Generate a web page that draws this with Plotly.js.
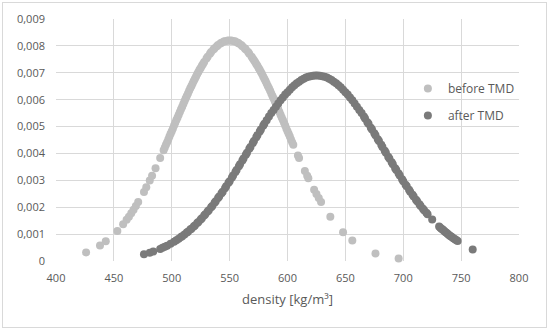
<!DOCTYPE html>
<html>
<head>
<meta charset="utf-8">
<script src="https://cdn.plot.ly/plotly-3.0.1.min.js"></script>
<style>
  html, body { margin: 0; padding: 0; background: #ffffff; }
  #wrap { position: absolute; left: 2px; top: 2px; width: 545px; height: 326px;
          box-sizing: border-box; border: 1px solid #d9d9d9; background: #fff; }
  #chart { width: 543px; height: 324px; }
</style>
</head>
<body>
<div id="wrap"><div id="chart"></div></div>
<script>
// density values [kg/m3] and probability density, before TMD
const beforeX = [
  426, 438, 443, 453, 458, 461, 463, 465, 467, 469,
  471, 476, 478, 481, 483, 486, 490, 493, 494, 495,
  496, 497, 498, 499, 500, 501, 502, 503, 504, 505,
  506, 507, 508, 509, 510, 511, 512, 513, 514, 515,
  516, 517, 518, 519, 520, 521, 522, 523, 524, 525,
  526, 527, 528, 530, 531, 533, 534, 536, 537, 539,
  540, 542, 543, 545, 546, 548, 549, 551, 552, 554,
  555, 557, 558, 560, 561, 563, 564, 566, 567, 569,
  570, 571, 572, 573, 574, 575, 576, 577, 578, 579,
  580, 581, 582, 583, 584, 585, 586, 587, 588, 589,
  590, 591, 592, 593, 594, 595, 596, 597, 598, 599,
  600, 601, 602, 603, 604, 605, 609, 610, 615, 617,
  618, 623, 625, 627, 629, 637, 648, 656, 676, 696];
const beforeY = [
  0.00032, 0.00058, 0.00073, 0.00112, 0.00137, 0.00153, 0.00165, 0.00178, 0.00191, 0.00205,
  0.00219, 0.00257, 0.00274, 0.00299, 0.00317, 0.00345, 0.00383, 0.00412, 0.00422, 0.00432,
  0.00442, 0.00452, 0.00463, 0.00473, 0.00483, 0.00493, 0.00504, 0.00514, 0.00524, 0.00534,
  0.00544, 0.00554, 0.00564, 0.00574, 0.00584, 0.00594, 0.00604, 0.00614, 0.00623, 0.00633,
  0.00642, 0.00651, 0.00660, 0.00669, 0.00678, 0.00686, 0.00695, 0.00703, 0.00711, 0.00718,
  0.00726, 0.00733, 0.00740, 0.00753, 0.00760, 0.00771, 0.00777, 0.00787, 0.00791, 0.00799,
  0.00803, 0.00809, 0.00812, 0.00816, 0.00817, 0.00819, 0.00820, 0.00820, 0.00819, 0.00817,
  0.00816, 0.00812, 0.00809, 0.00803, 0.00799, 0.00791, 0.00787, 0.00777, 0.00771, 0.00760,
  0.00753, 0.00747, 0.00740, 0.00733, 0.00726, 0.00718, 0.00711, 0.00703, 0.00695, 0.00686,
  0.00678, 0.00669, 0.00660, 0.00651, 0.00642, 0.00633, 0.00623, 0.00614, 0.00604, 0.00594,
  0.00584, 0.00574, 0.00564, 0.00554, 0.00544, 0.00534, 0.00524, 0.00514, 0.00504, 0.00493,
  0.00483, 0.00473, 0.00463, 0.00452, 0.00442, 0.00432, 0.00392, 0.00383, 0.00335, 0.00317,
  0.00308, 0.00265, 0.00249, 0.00234, 0.00219, 0.00165, 0.00107, 0.00076, 0.00028, 0.00009];

// after TMD
const afterX = [
  476, 481, 484, 490, 492, 494, 496, 499, 502, 504,
  506, 508, 509, 511, 513, 514, 516, 517, 519, 520,
  522, 523, 525, 526, 528, 529, 531, 532, 534, 535,
  537, 538, 540, 541, 543, 544, 546, 547, 549, 550,
  552, 553, 555, 556, 558, 559, 561, 562, 564, 565,
  567, 568, 570, 571, 573, 574, 576, 577, 579, 580,
  582, 584, 586, 588, 590, 592, 594, 596, 598, 600,
  602, 604, 606, 608, 610, 612, 614, 616, 618, 620,
  622, 624, 626, 628, 630, 632, 634, 636, 638, 640,
  642, 644, 646, 648, 650, 652, 654, 656, 658, 660,
  662, 664, 666, 667, 669, 670, 672, 673, 675, 676,
  678, 679, 681, 682, 684, 685, 687, 688, 690, 691,
  693, 694, 696, 697, 699, 700, 702, 703, 705, 706,
  708, 709, 711, 712, 714, 715, 717, 718, 720, 721,
  725, 731, 732, 733, 734, 735, 736, 737, 738, 739,
  740, 741, 742, 743, 744, 745, 746, 747, 760];
const afterY = [
  0.00025, 0.00031, 0.00035, 0.00045, 0.00049, 0.00053, 0.00057, 0.00064, 0.00072, 0.00077,
  0.00083, 0.00089, 0.00092, 0.00099, 0.00106, 0.00109, 0.00117, 0.00120, 0.00128, 0.00132,
  0.00141, 0.00145, 0.00154, 0.00159, 0.00169, 0.00174, 0.00184, 0.00189, 0.00200, 0.00205,
  0.00217, 0.00222, 0.00234, 0.00240, 0.00252, 0.00258, 0.00271, 0.00278, 0.00291, 0.00297,
  0.00311, 0.00318, 0.00331, 0.00338, 0.00352, 0.00360, 0.00374, 0.00381, 0.00395, 0.00403,
  0.00417, 0.00424, 0.00439, 0.00446, 0.00460, 0.00468, 0.00482, 0.00489, 0.00503, 0.00510,
  0.00523, 0.00537, 0.00550, 0.00562, 0.00574, 0.00586, 0.00598, 0.00608, 0.00619, 0.00628,
  0.00637, 0.00646, 0.00654, 0.00661, 0.00667, 0.00673, 0.00678, 0.00682, 0.00685, 0.00687,
  0.00689, 0.00690, 0.00690, 0.00689, 0.00687, 0.00685, 0.00682, 0.00678, 0.00673, 0.00667,
  0.00661, 0.00654, 0.00646, 0.00637, 0.00628, 0.00619, 0.00608, 0.00598, 0.00586, 0.00574,
  0.00562, 0.00550, 0.00537, 0.00530, 0.00516, 0.00510, 0.00496, 0.00489, 0.00475, 0.00468,
  0.00453, 0.00446, 0.00432, 0.00424, 0.00410, 0.00403, 0.00388, 0.00381, 0.00367, 0.00360,
  0.00345, 0.00338, 0.00325, 0.00318, 0.00304, 0.00297, 0.00284, 0.00278, 0.00265, 0.00258,
  0.00246, 0.00240, 0.00228, 0.00222, 0.00211, 0.00205, 0.00194, 0.00189, 0.00179, 0.00174,
  0.00154, 0.00128, 0.00124, 0.00120, 0.00117, 0.00113, 0.00109, 0.00106, 0.00102, 0.00099,
  0.00095, 0.00092, 0.00089, 0.00086, 0.00083, 0.00080, 0.00077, 0.00074, 0.00043];

const seriesNames = ['before TMD', 'after TMD'];
const xTickVals = [400, 450, 500, 550, 600, 650, 700, 750, 800];
const yTickVals = [0, 0.001, 0.002, 0.003, 0.004, 0.005, 0.006, 0.007, 0.008, 0.009];
const yTickText = ['0', '0,001', '0,002', '0,003', '0,004', '0,005', '0,006', '0,007', '0,008', '0,009'];
const xTitle = 'density [kg/m³]';

const FONT = '"Open Sans", "Noto Sans", sans-serif';
const TXT = '#595959';

const traces = [
  { x: beforeX, y: beforeY, name: seriesNames[0], type: 'scatter', mode: 'markers',
    legendgroup: 'a', marker: { color: '#bfbfbf', size: 8 }, cliponaxis: false },
  { x: afterX, y: afterY, name: seriesNames[1], type: 'scatter', mode: 'markers',
    legendgroup: 'b', marker: { color: '#7a7a7a', size: 8 }, cliponaxis: false }
];

const layout = {
  width: 543, height: 324,
  margin: { l: 53, r: 27, t: 16, b: 66 },
  paper_bgcolor: '#ffffff', plot_bgcolor: '#ffffff',
  font: { family: FONT, size: 11, color: TXT },
  showlegend: true,
  legend: { x: 0.76, y: 0.773, xanchor: 'left', yanchor: 'top',
            traceorder: 'grouped', tracegroupgap: 8,
            font: { family: FONT, size: 12, color: TXT }, bgcolor: 'rgba(0,0,0,0)' },
  xaxis: {
    range: [400, 800], tickvals: xTickVals, ticktext: xTickVals.map(String),
    showgrid: true, gridcolor: '#d9d9d9', gridwidth: 1,
    zeroline: false, showline: false, ticks: '',
    ticklabelstandoff: 9,
    tickfont: { family: FONT, size: 11, color: TXT },
    title: { text: xTitle, font: { family: FONT, size: 13, color: TXT }, standoff: 10 }
  },
  yaxis: {
    range: [0, 0.009], tickvals: yTickVals, ticktext: yTickText,
    showgrid: true, gridcolor: '#d9d9d9', gridwidth: 1,
    zeroline: false, showline: false, ticks: '',
    ticklabelstandoff: 10,
    tickfont: { family: FONT, size: 11, color: TXT }
  }
};

Plotly.newPlot('chart', traces, layout, { staticPlot: true, displayModeBar: false });
</script>
</body>
</html>
